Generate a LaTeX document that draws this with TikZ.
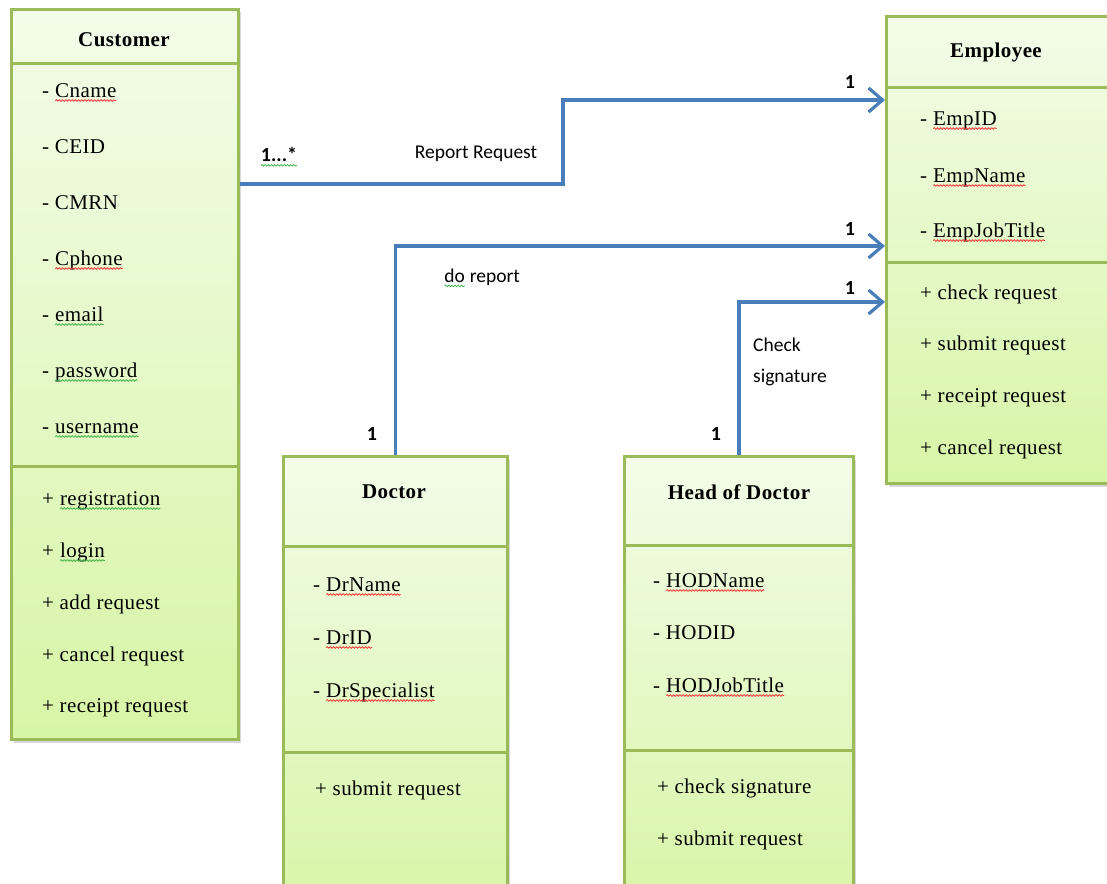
\documentclass[tikz,border=0pt]{standalone}
\usepackage{fontspec}
\setmainfont{Liberation Serif}
\newfontfamily\memberfont[LetterSpace=2]{Liberation Serif}
\newfontfamily\lblfont{Carlito}
\usetikzlibrary{arrows.meta,shadows,decorations.pathmorphing}

\definecolor{boxline}{HTML}{9BBB59}
\definecolor{boxtop}{HTML}{F3FCE9}
\definecolor{boxbot}{HTML}{D7F5A6}
\definecolor{linkblue}{HTML}{4A7EBB}
\definecolor{spellred}{HTML}{F02828}
\definecolor{spellgreen}{HTML}{38B040}

% wavy proofing underline below a word
\newcommand\wavy[2]{\tikz[baseline=(w.base)]{%
  \node[inner sep=0pt, outer sep=0pt, anchor=base] (w) {#2};%
  \draw[#1, line width=0.7pt, decorate,
        decoration={snake, amplitude=0.8pt, segment length=3.2pt}]
    ([yshift=-3.5pt]w.base west) -- ([yshift=-3.5pt]w.base east);}}
\newcommand\redwave[1]{\wavy{spellred}{#1}}
\newcommand\greenwave[1]{\wavy{spellgreen}{#1}}

\tikzset{
  classbox/.style={draw=boxline, line width=3pt, top color=boxtop, bottom color=boxbot,
    anchor=north west, inner sep=0pt,
    drop shadow={shadow xshift=2.5pt, shadow yshift=-3pt, opacity=0.25, fill=black!60}},
  divider/.style={draw=boxline, line width=3pt},
  classtitle/.style={font=\memberfont\bfseries\fontsize{21}{24}\selectfont, inner sep=0pt},
  member/.style={font=\memberfont\fontsize{21}{24}\selectfont, anchor=base west, inner sep=0pt},
  assoc/.style={draw=linkblue, line width=3.2pt,
    -{Straight Barb[length=14pt, width=24pt]}},
  lbl/.style={font=\lblfont\fontsize{19.5}{31}\selectfont, inner sep=0pt},
  mult/.style={font=\lblfont\bfseries\fontsize{20}{22}\selectfont, inner sep=0pt},
}

\begin{document}
\begin{tikzpicture}[x=1pt, y=-1pt]
\useasboundingbox (0,0) rectangle (1107,883);

% ---------- Customer ----------
\node[classbox, minimum width=227pt, minimum height=730pt] (cust) at (10,8) {};
\draw[divider] (cust.north west |- 0,63) -- (cust.north east |- 0,63);
\draw[divider] (cust.north west |- 0,466) -- (cust.north east |- 0,466);
\node[classtitle] (custT) at (124,40) {Customer};
\node[member] (cust1) at (42,97)  {- \redwave{Cname}};
\node[member] (cust2) at (42,153) {- CEID};
\node[member] (cust3) at (42,209) {- CMRN};
\node[member] (cust4) at (42,265) {- \redwave{Cphone}};
\node[member] (cust5) at (42,321) {- \greenwave{email}};
\node[member] (cust6) at (42,377) {- \greenwave{password}};
\node[member] (cust7) at (42,433) {- \greenwave{username}};
\node[member] (custO1) at (42,505) {+ \greenwave{registration}};
\node[member] (custO2) at (42,557) {+ \greenwave{login}};
\node[member] (custO3) at (42,609) {+ add request};
\node[member] (custO4) at (42,661) {+ cancel request};
\node[member] (custO5) at (42,712) {+ receipt request};

% ---------- Employee ----------
\node[classbox, minimum width=240pt, minimum height=467pt] (emp) at (885,15) {};
\draw[divider] (emp.north west |- 0,87) -- (emp.north east |- 0,87);
\draw[divider] (emp.north west |- 0,262) -- (emp.north east |- 0,262);
\node[classtitle] (empT) at (996,52) {Employee};
\node[member] (emp1) at (920,125) {- \redwave{EmpID}};
\node[member] (emp2) at (920,182) {- \redwave{EmpName}};
\node[member] (emp3) at (920,237) {- \redwave{EmpJobTitle}};
\node[member] (empO1) at (920,299) {+ check request};
\node[member] (empO2) at (920,350) {+ submit request};
\node[member] (empO3) at (920,402) {+ receipt request};
\node[member] (empO4) at (920,454) {+ cancel request};

% ---------- Doctor ----------
\node[classbox, minimum width=224pt, minimum height=460pt] (doc) at (282,455) {};
\draw[divider] (doc.north west |- 0,546) -- (doc.north east |- 0,546);
\draw[divider] (doc.north west |- 0,752) -- (doc.north east |- 0,752);
\node[classtitle] (docT) at (394,492) {Doctor};
\node[member] (doc1) at (313,591) {- \redwave{DrName}};
\node[member] (doc2) at (313,644) {- \redwave{DrID}};
\node[member] (doc3) at (313,697) {- \redwave{DrSpecialist}};
\node[member] (docO1) at (315,795) {+ submit request};

% ---------- Head of Doctor ----------
\node[classbox, minimum width=229pt, minimum height=460pt] (hod) at (623,455) {};
\draw[divider] (hod.north west |- 0,545) -- (hod.north east |- 0,545);
\draw[divider] (hod.north west |- 0,750) -- (hod.north east |- 0,750);
\node[classtitle] (hodT) at (739,492) {Head of Doctor};
\node[member] (hod1) at (653,587) {- \redwave{HODName}};
\node[member] (hod2) at (653,639) {- HODID};
\node[member] (hod3) at (653,692) {- \redwave{HODJobTitle}};
\node[member] (hodO1) at (657,793) {+ check signature};
\node[member] (hodO2) at (657,845) {+ submit request};

% ---------- Associations ----------
\draw[assoc] (cust.east |- 0,184) -| (563,100) -- (emp.west |- 0,100);
\draw[assoc] (doc.north) |- (emp.west |- 0,246);
\draw[assoc] (hod.north) |- (emp.west |- 0,302);

\node[lbl] (l1) at (476,154) {Report Request};
\node[lbl] (l2) at (482,278) {\greenwave{do} report};
\node[lbl, anchor=north west, align=left] (l3) at (753,338) {Check\\signature};

\node[mult] (m1) at (279,157) {\greenwave{1...*}};
\node[mult] (m2) at (850,82) {1};
\node[mult] (m3) at (850,229) {1};
\node[mult] (m4) at (850,288) {1};
\node[mult] (m5) at (372,434) {1};
\node[mult] (m6) at (716,434) {1};
\end{tikzpicture}
\end{document}
